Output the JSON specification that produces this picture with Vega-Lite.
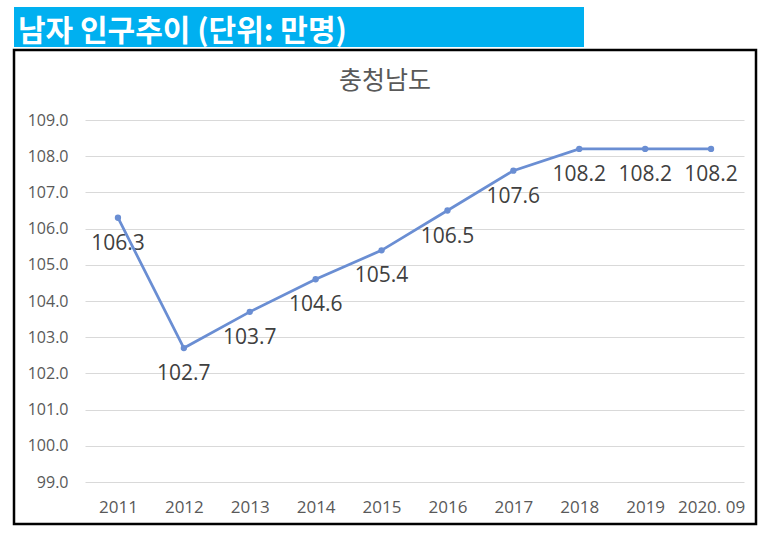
{
  "$schema": "https://vega.github.io/schema/vega-lite/v6.json",
  "background": "white",
  "padding": {"left": 12, "top": 7, "right": 0, "bottom": 0},
  "autosize": {"type": "pad"},
  "config": {"view": {"stroke": null}, "font": "Open Sans"},
  "spacing": 1,
  "vconcat": [
    {
      "width": 570,
      "height": 40,
      "view": {"fill": "#00B0F0", "stroke": null},
      "title": {
        "text": "남자 인구추이 (단위: 만명)",
        "orient": "top",
        "anchor": "start",
        "frame": "group",
        "offset": -54.5,
        "dx": 4,
        "baseline": "middle",
        "color": "white",
        "font": "Noto Sans CJK KR",
        "fontSize": 30,
        "fontWeight": "bold"
      },
      "data": {"values": [{"k": 1}]},
      "mark": {"type": "point", "opacity": 0},
      "encoding": {}
    },
    {
      "width": 742,
      "height": 474,
      "view": {"stroke": "black", "strokeWidth": 2.5, "fill": "white"},
      "title": {
        "text": "충청남도",
        "orient": "top",
        "anchor": "middle",
        "frame": "group",
        "offset": -56,
        "baseline": "middle",
        "color": "#595959",
        "font": "Noto Sans CJK KR",
        "fontSize": 25,
        "fontWeight": "normal"
      },
      "data": {
        "values": [
          {"year": "2011", "value": 106.3},
          {"year": "2012", "value": 102.7},
          {"year": "2013", "value": 103.7},
          {"year": "2014", "value": 104.6},
          {"year": "2015", "value": 105.4},
          {"year": "2016", "value": 106.5},
          {"year": "2017", "value": 107.6},
          {"year": "2018", "value": 108.2},
          {"year": "2019", "value": 108.2},
          {"year": "2020. 09", "value": 108.2}
        ]
      },
      "encoding": {
        "x": {
          "field": "year",
          "type": "ordinal",
          "sort": null,
          "scale": {"type": "point", "range": [71, 730], "padding": 0.5},
          "axis": {
            "orient": "bottom",
            "offset": -43,
            "domain": false,
            "ticks": false,
            "grid": false,
            "labelPadding": 18,
            "labelAngle": 0,
            "labelFont": "Open Sans",
            "labelFontSize": 17,
            "labelColor": "#595959",
            "title": null
          }
        },
        "y": {
          "field": "value",
          "type": "quantitative",
          "scale": {"domain": [99, 109], "nice": false, "zero": false, "range": [432, 70]},
          "axis": {
            "orient": "left",
            "offset": -71,
            "values": [99, 100, 101, 102, 103, 104, 105, 106, 107, 108, 109],
            "format": ".1f",
            "domain": false,
            "ticks": false,
            "grid": true,
            "gridColor": "#D9D9D9",
            "gridWidth": 1,
            "labelPadding": 17,
            "labelFont": "Open Sans",
            "labelFontSize": 16,
            "labelColor": "#595959",
            "title": null
          }
        }
      },
      "layer": [
        {
          "mark": {"type": "text", "dy": 26, "baseline": "middle", "fontSize": 21, "color": "#404040", "font": "Open Sans"},
          "encoding": {"text": {"field": "value", "type": "quantitative", "format": ".1f"}}
        },
        {
          "mark": {"type": "line", "color": "#6A8ED3", "strokeWidth": 2.75},
          "encoding": {}
        },
        {
          "mark": {"type": "point", "filled": true, "opacity": 1, "color": "#6A8ED3", "size": 40},
          "encoding": {}
        }
      ]
    }
  ]
}
